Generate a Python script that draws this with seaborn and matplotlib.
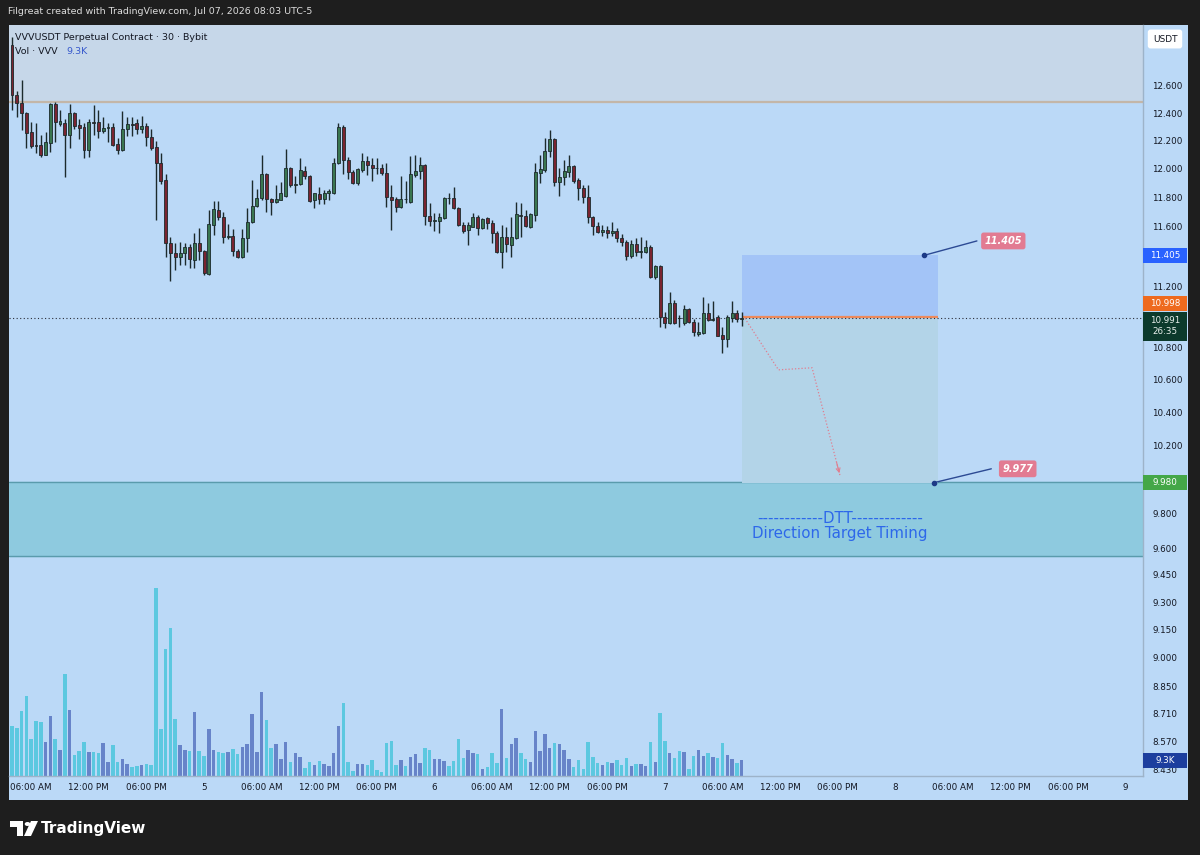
import numpy as np
import pandas as pd
import matplotlib
matplotlib.use("Agg")
import matplotlib.pyplot as plt
from matplotlib.patches import Rectangle, Circle, Polygon
from matplotlib.ticker import NullLocator
import seaborn as sns

# ---- VVVUSDT perpetual, 30m candles (Bybit) ----
start_time = "2026-07-04 04:00"

opens = [12.908, 12.533, 12.475, 12.401, 12.264, 12.170, 12.170, 12.098, 12.184, 12.467,
         12.322, 12.329, 12.242, 12.401, 12.315, 12.300, 12.134, 12.336, 12.336, 12.271,
         12.293, 12.300, 12.177, 12.134, 12.285, 12.322, 12.329, 12.285, 12.307, 12.228,
         12.156, 12.042, 11.922, 11.489, 11.421, 11.394, 11.421, 11.461, 11.374, 11.489,
         11.434, 11.280, 11.611, 11.714, 11.666, 11.529, 11.536, 11.434, 11.394, 11.523,
         11.632, 11.742, 11.797, 11.965, 11.790, 11.769, 11.783, 11.811, 12.007, 11.887,
         11.894, 11.986, 11.951, 11.783, 11.824, 11.790, 11.831, 11.831, 12.042, 12.300,
         12.063, 11.979, 11.901, 11.993, 12.056, 12.028, 12.007, 12.007, 11.972, 11.804,
         11.790, 11.735, 11.790, 11.769, 11.958, 11.986, 12.028, 11.673, 11.639, 11.639,
         11.659, 11.797, 11.797, 11.728, 11.611, 11.577, 11.598, 11.666, 11.591, 11.659,
         11.625, 11.557, 11.428, 11.529, 11.475, 11.523, 11.680, 11.673, 11.598, 11.680,
         11.972, 11.993, 12.127, 12.213, 11.908, 11.943, 11.979, 12.021, 11.922, 11.866,
         11.804, 11.666, 11.604, 11.564, 11.577, 11.557, 11.570, 11.523, 11.495, 11.401,
         11.482, 11.428, 11.428, 11.461, 11.261, 11.334, 11.000, 10.961, 11.090, 10.993,
         10.961, 11.052, 10.967, 10.889, 10.896, 11.026, 10.980, 11.000, 10.883, 10.857,
         10.993, 11.026, 10.987]
highs = [12.969, 12.563, 12.645, 12.409, 12.336, 12.329, 12.242, 12.264, 12.475, 12.482,
         12.423, 12.358, 12.467, 12.409, 12.358, 12.329, 12.358, 12.460, 12.423, 12.373,
         12.329, 12.329, 12.220, 12.416, 12.373, 12.373, 12.358, 12.380, 12.329, 12.285,
         12.199, 12.113, 11.965, 11.529, 11.489, 11.495, 11.489, 11.482, 11.557, 11.591,
         11.441, 11.714, 11.776, 11.776, 11.700, 11.618, 11.584, 11.448, 11.584, 11.728,
         11.922, 11.859, 12.098, 11.972, 11.795, 11.887, 11.908, 12.141, 12.014, 11.951,
         12.077, 12.021, 11.958, 11.831, 11.873, 11.852, 11.859, 12.077, 12.329, 12.315,
         12.084, 11.993, 12.007, 12.113, 12.091, 12.077, 12.077, 12.035, 12.042, 11.887,
         11.804, 11.951, 11.915, 12.091, 12.098, 12.084, 12.035, 11.762, 11.693, 11.693,
         11.804, 11.831, 11.873, 11.735, 11.632, 11.632, 11.693, 11.680, 11.659, 11.666,
         11.645, 11.570, 11.611, 11.598, 11.666, 11.769, 11.762, 11.714, 11.693, 12.042,
         12.098, 12.220, 12.278, 12.220, 12.007, 12.063, 12.098, 12.028, 11.936, 11.887,
         11.887, 11.673, 11.632, 11.611, 11.604, 11.632, 11.591, 11.550, 11.509, 11.509,
         11.523, 11.529, 11.509, 11.475, 11.341, 11.341, 11.032, 11.162, 11.110, 11.013,
         11.078, 11.058, 10.987, 10.967, 11.130, 11.090, 11.103, 11.013, 10.935, 11.013,
         11.103, 11.045, 11.032]
lows = [12.423, 12.373, 12.278, 12.148, 12.148, 12.113, 12.084, 12.098, 12.120, 12.192,
        12.307, 11.943, 12.148, 12.285, 12.213, 12.077, 12.084, 12.242, 12.220, 12.256,
        12.192, 12.163, 12.105, 12.127, 12.235, 12.235, 12.249, 12.256, 12.163, 12.134,
        11.645, 11.894, 11.394, 11.234, 11.307, 11.341, 11.341, 11.320, 11.320, 11.374,
        11.274, 11.274, 11.543, 11.645, 11.489, 11.516, 11.401, 11.388, 11.388, 11.428,
        11.625, 11.735, 11.783, 11.700, 11.680, 11.762, 11.780, 11.804, 11.873, 11.831,
        11.890, 11.929, 11.769, 11.728, 11.755, 11.755, 11.780, 11.824, 12.035, 11.965,
        11.929, 11.894, 11.887, 11.979, 11.958, 11.915, 11.965, 11.958, 11.735, 11.577,
        11.700, 11.728, 11.762, 11.762, 11.943, 11.929, 11.611, 11.604, 11.570, 11.557,
        11.652, 11.755, 11.721, 11.604, 11.557, 11.475, 11.595, 11.543, 11.584, 11.584,
        11.489, 11.421, 11.320, 11.428, 11.394, 11.516, 11.529, 11.598, 11.591, 11.639,
        11.901, 11.979, 12.084, 11.880, 11.811, 11.887, 11.943, 11.901, 11.783, 11.762,
        11.625, 11.543, 11.557, 11.536, 11.523, 11.536, 11.495, 11.468, 11.374, 11.387,
        11.401, 11.387, 11.421, 11.254, 11.247, 10.935, 10.928, 10.954, 10.954, 10.935,
        10.948, 10.961, 10.876, 10.876, 10.889, 10.974, 10.974, 10.876, 10.769, 10.807,
        10.967, 10.967, 10.941]
closes = [12.533, 12.475, 12.401, 12.256, 12.163, 12.163, 12.098, 12.192, 12.467, 12.336,
          12.344, 12.242, 12.401, 12.307, 12.293, 12.134, 12.336, 12.329, 12.271, 12.293,
          12.300, 12.170, 12.134, 12.285, 12.322, 12.315, 12.285, 12.307, 12.228, 12.148,
          12.042, 11.915, 11.489, 11.421, 11.394, 11.421, 11.461, 11.381, 11.489, 11.434,
          11.287, 11.618, 11.721, 11.666, 11.529, 11.536, 11.434, 11.394, 11.523, 11.632,
          11.742, 11.797, 11.965, 11.790, 11.769, 11.790, 11.831, 12.007, 11.887, 11.894,
          11.993, 11.951, 11.776, 11.831, 11.790, 11.831, 11.845, 12.042, 12.300, 12.063,
          11.979, 11.901, 12.000, 12.056, 12.028, 12.007, 12.005, 11.972, 11.804, 11.783,
          11.735, 11.790, 11.787, 11.965, 11.986, 12.028, 11.673, 11.639, 11.642, 11.666,
          11.797, 11.794, 11.728, 11.611, 11.570, 11.611, 11.666, 11.591, 11.652, 11.625,
          11.557, 11.428, 11.529, 11.482, 11.529, 11.686, 11.673, 11.604, 11.686, 11.979,
          12.000, 12.127, 12.213, 11.908, 11.943, 11.986, 12.021, 11.915, 11.866, 11.804,
          11.666, 11.604, 11.564, 11.577, 11.557, 11.570, 11.523, 11.495, 11.401, 11.482,
          11.428, 11.434, 11.461, 11.261, 11.334, 11.000, 10.961, 11.090, 10.961, 10.990,
          11.052, 10.967, 10.902, 10.902, 11.026, 10.980, 10.984, 10.876, 10.857, 11.000,
          11.026, 10.987, 10.991]
volumes_k = [29.2, 28.2, 38.6, 47.3, 21.7, 32.7, 31.7, 20.1, 35.1, 21.7,
             15.4, 60.3, 39.0, 12.4, 15.0, 19.9, 14.0, 14.4, 13.8, 19.7,
             8.5, 18.3, 8.5, 10.2, 6.9, 5.5, 5.9, 6.5, 7.1, 6.5,
             110.9, 27.6, 75.1, 87.3, 33.7, 18.1, 15.4, 14.8, 37.6, 14.8,
             11.8, 27.6, 15.4, 14.0, 13.4, 14.0, 16.0, 13.0, 16.9, 18.7,
             36.6, 14.4, 49.4, 33.1, 16.4, 18.7, 10.0, 19.9, 8.1, 13.8,
             11.0, 4.5, 8.5, 6.5, 9.1, 7.1, 5.9, 13.8, 29.7, 42.9,
             8.5, 3.2, 6.9, 6.9, 6.5, 9.5, 3.5, 2.6, 19.7, 20.5,
             6.3, 9.7, 5.9, 11.2, 12.8, 7.5, 16.7, 15.4, 10.2, 9.9,
             8.7, 5.9, 8.7, 22.1, 10.8, 15.4, 13.4, 12.8, 4.3, 5.3,
             13.4, 7.5, 39.8, 10.6, 19.1, 22.7, 13.4, 9.9, 8.1, 26.4,
             15.0, 25.0, 16.4, 19.3, 19.1, 15.4, 9.9, 5.5, 9.3, 3.9,
             19.9, 11.4, 7.5, 6.3, 8.1, 7.9, 9.7, 6.3, 10.8, 5.9,
             6.9, 7.3, 5.9, 19.9, 8.3, 37.0, 20.5, 13.4, 10.6, 14.8,
             14.2, 3.9, 11.6, 15.4, 11.6, 13.8, 11.0, 10.6, 19.5, 12.2,
             10.0, 7.5, 9.3]

price_ticks = [12.6, 12.4, 12.2, 12.0, 11.8, 11.6, 11.2, 10.8, 10.6, 10.4, 10.2,
               9.8, 9.6, 9.45, 9.3, 9.15, 9.0, 8.85, 8.71, 8.57, 8.43]
axis_start, axis_end = "2026-07-04 06:00", "2026-07-09 00:00"

resistance = 12.482
zone_top, zone_bottom = 9.980, 9.555
entry_price, target_price, stop_price = 10.998, 11.405, 9.977
last_price, countdown, last_volume = 10.991, "26:35", "9.3K"
tool_start, tool_end = "2026-07-07 08:00", "2026-07-08 04:30"
path_times = ["2026-07-07 08:20", "2026-07-07 11:50", "2026-07-07 15:20", "2026-07-07 18:15"]
path_prices = [10.990, 10.662, 10.675, 10.017]

# ---- colours ----
DARK = "#1e1e1e"
BG = "#bbd9f7"
UP, DOWN, WICK = "#3a7650", "#7a2430", "#1c2a2c"
VOL_UP, VOL_DN = "#6784c9", "#5cc8e0"
INK = "#131722"

t0 = pd.Timestamp(start_time)
def tx(t):
    return (pd.Timestamp(t) - t0) / pd.Timedelta("30min")

df = pd.DataFrame({"open": opens, "high": highs, "low": lows, "close": closes, "vol": volumes_k})
df["time"] = pd.date_range(start_time, periods=len(df), freq="30min")
df["x"] = [tx(t) for t in df["time"]]
df["up"] = df["close"] >= df["open"]

sns.set_theme(style="white")
plt.rcParams["font.family"] = ["DejaVu Sans"]

W, H = 1200, 855
fig = plt.figure(figsize=(12, 8.55), dpi=100)
fig.patch.set_facecolor(DARK)

def fx(px):
    return px / W
def fy(py):
    return 1 - py / H

# chart panel
fig.add_artist(Rectangle((fx(9), fy(800)), fx(1188) - fx(9), fy(25) - fy(800),
                         transform=fig.transFigure, facecolor=BG, edgecolor="none", zorder=-1))

pos = [fx(9), fy(776), fx(1143) - fx(9), fy(25) - fy(776)]
vax = fig.add_axes(pos)
ax = fig.add_axes(pos)
ax.set_facecolor("none")
xlim = (-0.625, 235.6)

# volume pane
vax.bar(df["x"], df["vol"], width=0.72, color=np.where(df["up"], VOL_UP, VOL_DN), linewidth=0)
vax.set_xlim(*xlim)
vax.set_ylim(0, 443)
vax.set_axis_off()

# bands
ax.axhspan(resistance, 14, color="#c6d7e9", zorder=0)
ax.axhline(resistance, color="#c3b6a8", lw=1.6, zorder=1)
ax.axhspan(zone_bottom, zone_top, color="#8ecadf", zorder=0)
ax.axhline(zone_top, color="#5a9bac", lw=1, zorder=1)
ax.axhline(zone_bottom, color="#5a9bac", lw=1, zorder=1)

# long-position tool
x0, x1 = tx(tool_start), tx(tool_end)
ax.add_patch(Rectangle((x0, entry_price), x1 - x0, target_price - entry_price,
                       facecolor="#a3c4f7", edgecolor="none", zorder=1))
ax.add_patch(Rectangle((x0, stop_price), x1 - x0, entry_price - stop_price,
                       facecolor="#b3d4e8", edgecolor="none", zorder=1))
ax.hlines(entry_price, x0, x1, color="#ee8a5c", lw=1.6, zorder=2)

# last price line
ax.axhline(last_price, color="#2a2e39", lw=0.8, ls=(0, (1, 2.2)), zorder=2)

# candles
body_lo = np.minimum(df["open"], df["close"])
body_h = np.maximum((df["close"] - df["open"]).abs(), 0.004)
ax.vlines(df["x"], df["low"], df["high"], color=WICK, lw=1.0, zorder=3)
ax.bar(df["x"], body_h, bottom=body_lo, width=0.62,
       color=np.where(df["up"], UP, DOWN), edgecolor=WICK, linewidth=0.6, zorder=4)

# projected path
px_path = [tx(t) for t in path_times]
sns.lineplot(x=px_path, y=path_prices, ax=ax, sort=False, color="#e07e90",
             linewidth=0.9, linestyle=(0, (1, 1.6)), zorder=5)
xa = px_path[-2] + 0.85 * (px_path[-1] - px_path[-2])
pa = np.exp(np.log(path_prices[-2]) + 0.85 * (np.log(path_prices[-1]) - np.log(path_prices[-2])))
ax.annotate("", xy=(px_path[-1], path_prices[-1]), xytext=(xa, pa),
            arrowprops=dict(arrowstyle="->", color="#e07e90", lw=0.8, mutation_scale=7), zorder=5)

# axes scales
ax.set_yscale("log")
ax.set_ylim(8.396, 13.06)
ax.set_xlim(*xlim)
ax.yaxis.tick_right()
ax.set_yticks(price_ticks)
ax.set_yticklabels([f"{v:.3f}" for v in price_ticks])
ax.yaxis.set_minor_locator(NullLocator())
tick_times = pd.date_range(axis_start, axis_end, freq="6h")
ax.set_xticks([tx(t) for t in tick_times])
ax.set_xticklabels([str(t.day) if t.hour == 0 else t.strftime("%I:%M %p") for t in tick_times])
ax.tick_params(axis="y", length=0, pad=6.5, labelsize=6.3, labelcolor=INK)
ax.tick_params(axis="x", length=0, pad=5, labelsize=6.3, labelcolor=INK)
ax.set_xlabel("")
ax.set_ylabel("")
for side in ["top", "left"]:
    ax.spines[side].set_visible(False)
for side in ["right", "bottom"]:
    ax.spines[side].set_color("#9db3c9")
    ax.spines[side].set_linewidth(1)

# anchor dots and price callouts
def callout(xd, yd, xl, yl, text):
    ax.plot([xd, xl], [yd, yl], color="#2c4a94", lw=1, zorder=6)
    ax.plot([xd], [yd], "o", color="#1d3a86", ms=3, zorder=7)
    ax.text(xl + 5.5, yl, text, ha="center", va="center", color="white", fontsize=7,
            style="italic", weight="bold", zorder=8,
            bbox=dict(boxstyle="round,pad=0.35,rounding_size=0.25", fc="#e27b92", ec="none"))

callout(tx("2026-07-08 03:00"), target_price, tx("2026-07-08 08:30"), 11.502, f"{target_price:.3f}")
callout(tx("2026-07-08 04:00"), stop_price, tx("2026-07-08 10:00"), 10.059, f"{stop_price:.3f}")

# DTT note in the zone
ax.text((x0 + x1) / 2, np.sqrt(zone_top * zone_bottom) * 0.9962,
        "------------DTT-------------\nDirection Target Timing",
        ha="center", va="center", color="#2d67ea", fontsize=10.8, linespacing=1.0, zorder=6)

# right-scale tags
fig.canvas.draw()
def tag(y_disp, text, fc, h=15, tc="white", size=6.3):
    fig.add_artist(Rectangle((fx(1143), (y_disp - h / 2) / H), fx(44), h / H,
                             transform=fig.transFigure, facecolor=fc, edgecolor="none", zorder=5))
    fig.text(fx(1165), y_disp / H, text, ha="center", va="center", color=tc,
             fontsize=size, zorder=6)

def ypix(price):
    return ax.transData.transform((0, price))[1]

tag(ypix(target_price), f"{target_price:.3f}", "#2962ff")
tag(ypix(entry_price) + 14, f"{entry_price:.3f}", "#ee6a1e")
tag(ypix(last_price) - 8, f"{last_price:.3f}\n{countdown}", "#0c3a2c", h=29, tc="#e8f0ec")
tag(ypix(zone_top), f"{zone_top:.3f}", "#44a748")
tag(vax.transData.transform((0, 9.3))[1], last_volume, "#1c3e9e")

# USDT box
fig.text(fx(1165), fy(39), "USDT", ha="center", va="center", fontsize=6.5, color=INK,
         bbox=dict(boxstyle="round,pad=0.55,rounding_size=0.3", fc="white", ec="none"), zorder=6)

# header texts
fig.text(fx(8), fy(12), "Filgreat created with TradingView.com, Jul 07, 2026 08:03 UTC-5",
         color="#dcdcdc", fontsize=6.8, va="center")
fig.text(fx(15), fy(37), "VVVUSDT Perpetual Contract · 30 · Bybit", color=INK, fontsize=6.8, va="center")
fig.text(fx(15), fy(51), "Vol · VVV", color=INK, fontsize=6.8, va="center")
fig.text(fx(66), fy(51), last_volume, color="#3658cc", fontsize=6.8, va="center")

# TradingView brand
def fpoly(pts, **kw):
    fig.add_artist(Polygon([(fx(a), fy(b)) for a, b in pts], closed=True,
                           transform=fig.transFigure, **kw))
fpoly([(10, 821), (23, 821), (23, 836), (17, 836), (17, 827), (10, 827)], facecolor="white", edgecolor="none")
fig.add_artist(Circle((fx(27.5), fy(824)), 2.8 / W, transform=fig.transFigure, facecolor="white", edgecolor="none"))
fpoly([(31, 821), (38, 821), (31, 836), (24, 836)], facecolor="white", edgecolor="none")
fig.text(fx(41), fy(828.5), "TradingView", color="white", fontsize=11, weight="bold", va="center")

fig.savefig("out.png", dpi=100, facecolor=fig.get_facecolor())
